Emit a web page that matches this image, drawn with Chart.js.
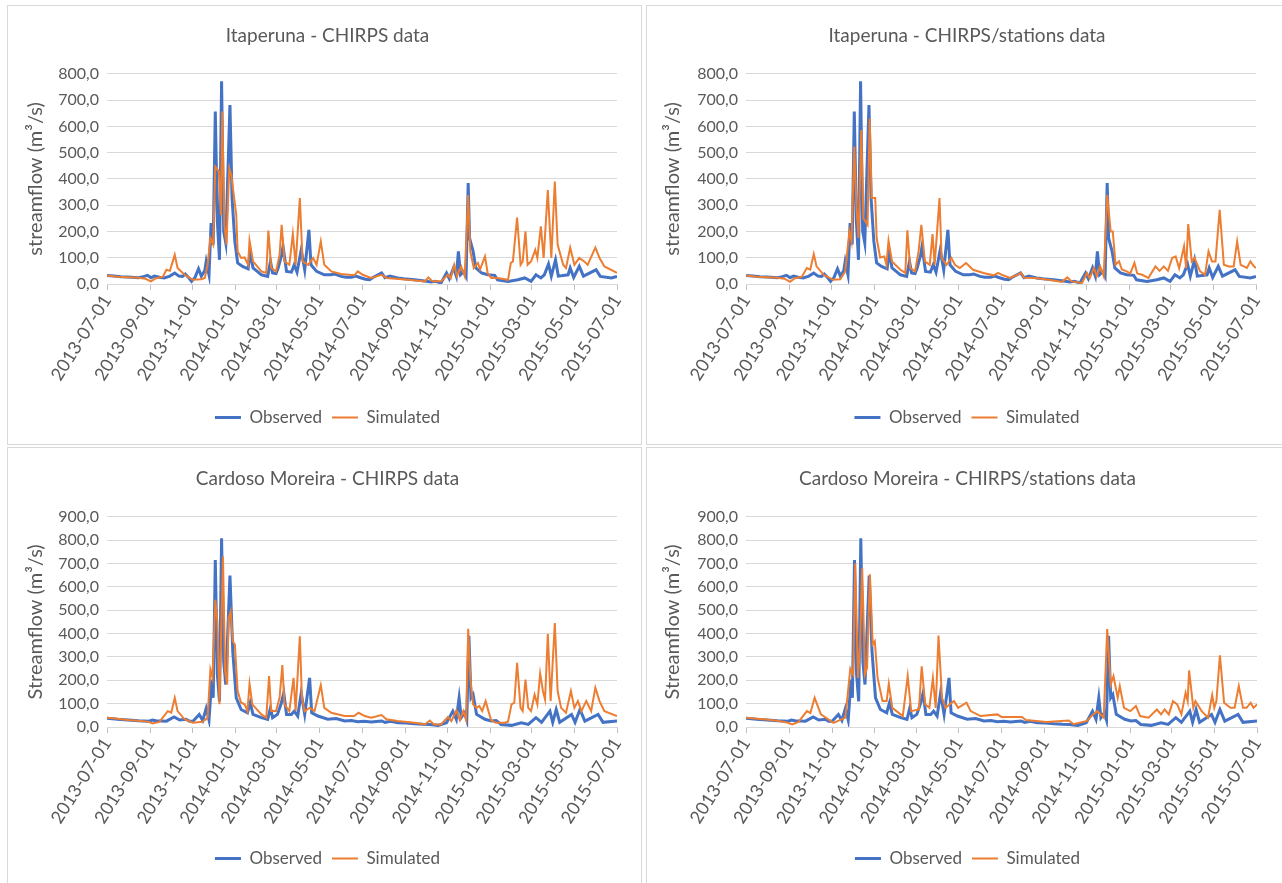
<!DOCTYPE html>
<html>
<head>
<meta charset="utf-8">
<script src="https://cdn.jsdelivr.net/npm/chart.js@4.4.0/dist/chart.umd.min.js"></script>
<style>
  body { margin: 0; background: #fff; width: 1282px; height: 883px; overflow: hidden; position: relative; }
  .panel { position: absolute; border: 1px solid #d9d9d9; box-sizing: border-box; }
  canvas { position: absolute; }
</style>
</head>
<body>
<div class="panel" style="left:7px;top:5px;width:635px;height:440px"></div>
<div class="panel" style="left:646px;top:5px;width:640px;height:440px"></div>
<div class="panel" style="left:7px;top:447px;width:635px;height:440px"></div>
<div class="panel" style="left:646px;top:447px;width:640px;height:440px"></div>
<canvas id="c1" width="632" height="440" style="left:8px;top:5px"></canvas>
<canvas id="c2" width="637" height="440" style="left:645px;top:5px"></canvas>
<canvas id="c3" width="632" height="435" style="left:8px;top:448px"></canvas>
<canvas id="c4" width="637" height="435" style="left:645px;top:448px"></canvas>
<script>
"use strict";

// days counted from startDate, values in m3/s
const startDate = '2013-07-01';
const tickLabels = ['2013-07-01', '2013-09-01', '2013-11-01', '2014-01-01', '2014-03-01', '2014-05-01',
  '2014-07-01', '2014-09-01', '2014-11-01', '2015-01-01', '2015-03-01', '2015-05-01', '2015-07-01'];

// Itaperuna observed (same in both upper charts)
const obsItaperuna = [[0,32],[10,30],[20,28],[30,27],[45,24],[52,28],[58,33],[63,24],[68,30],[75,26],[82,23],[90,30],[97,42],[103,30],[108,29],[112,38],[116,27],[121,10],[126,25],[131,58],[135,30],[140,51],[142,86],[146,35],[149,232],[152,150],[155,656],[158,238],[161,92],[164,772],[167,200],[170,156],[176,681],[179,327],[183,162],[187,80],[194,67],[202,58],[205,124],[209,61],[215,48],[221,35],[230,29],[234,86],[237,42],[242,40],[245,61],[250,111],[252,143],[257,48],[264,45],[268,73],[272,45],[278,130],[283,54],[289,206],[292,73],[300,48],[311,35],[320,35],[326,38],[335,29],[342,26],[350,26],[356,30],[364,23],[370,18],[376,16],[380,24],[393,42],[398,24],[405,30],[416,23],[425,20],[440,16],[452,12],[464,8],[470,10],[478,4],[486,42],[490,20],[496,61],[500,30],[503,124],[506,35],[511,48],[514,30],[517,384],[519,175],[524,124],[528,61],[536,42],[545,35],[555,33],[559,16],[574,10],[588,16],[598,23],[607,10],[614,35],[621,23],[626,35],[632,76],[636,30],[642,92],[646,30],[660,35],[663,61],[668,25],[676,67],[682,30],[700,54],[706,29],[722,23],[730,29]];

const simItaperunaChirps = [[0,32],[15,28],[30,26],[45,24],[55,20],[63,10],[70,22],[80,28],[85,54],[90,50],[97,111],[101,61],[111,35],[123,16],[135,18],[140,23],[144,73],[148,175],[152,150],[155,447],[160,430],[163,263],[165,656],[168,225],[171,150],[175,440],[178,415],[182,327],[185,263],[187,124],[192,99],[197,101],[202,73],[204,165],[209,86],[221,48],[228,42],[231,203],[235,61],[242,48],[247,111],[250,225],[254,86],[261,73],[266,190],[270,73],[276,327],[280,86],[288,73],[295,99],[300,73],[306,162],[311,73],[321,48],[335,38],[354,33],[359,48],[366,35],[378,23],[393,35],[400,23],[431,16],[455,10],[460,25],[466,10],[478,10],[488,35],[492,22],[497,73],[501,30],[507,67],[512,30],[517,339],[520,124],[525,61],[531,80],[534,55],[541,105],[545,40],[550,23],[559,23],[574,16],[578,80],[581,86],[587,253],[592,73],[595,86],[599,200],[602,73],[607,86],[613,130],[616,99],[621,219],[625,99],[631,358],[636,99],[641,390],[645,150],[653,73],[657,61],[663,139],[669,73],[676,99],[683,86],[688,73],[699,139],[705,99],[712,67],[730,42]];

const simItaperunaStations = [[0,32],[15,28],[30,26],[45,24],[55,20],[63,8],[70,22],[80,28],[87,61],[92,55],[97,114],[101,67],[111,35],[125,16],[135,18],[142,48],[148,200],[151,162],[155,523],[158,301],[161,175],[165,586],[168,250],[171,238],[174,225],[177,630],[180,327],[185,327],[187,175],[192,101],[198,105],[201,73],[204,165],[209,86],[221,54],[228,42],[231,204],[235,61],[242,48],[247,124],[251,225],[256,86],[263,73],[267,190],[270,73],[277,327],[280,99],[287,73],[294,99],[299,73],[306,61],[315,80],[325,54],[340,42],[354,33],[361,42],[366,35],[378,23],[394,42],[398,24],[414,23],[433,16],[452,8],[460,25],[466,10],[481,4],[488,42],[492,22],[498,61],[502,30],[507,67],[512,30],[517,339],[522,200],[525,200],[529,73],[534,86],[538,55],[545,48],[550,40],[556,80],[560,40],[567,35],[576,23],[586,67],[592,50],[598,67],[604,50],[610,99],[615,105],[620,60],[627,143],[630,60],[633,228],[638,86],[642,99],[650,48],[657,35],[662,124],[667,86],[672,86],[678,282],[684,73],[691,67],[698,67],[703,162],[708,73],[717,61],[722,86],[727,67],[730,61]];

// Cardoso Moreira observed (same in both lower charts)
const obsCardoso = [[0,37],[15,33],[30,30],[45,27],[60,25],[65,30],[70,27],[85,25],[96,43],[104,30],[113,33],[118,25],[123,25],[132,54],[137,28],[142,80],[146,30],[150,203],[152,125],[155,715],[158,225],[161,110],[164,808],[167,280],[170,182],[176,648],[180,325],[185,125],[192,75],[201,61],[205,104],[209,54],[221,40],[230,33],[234,82],[237,40],[244,54],[249,97],[253,146],[257,54],[264,54],[268,68],[273,47],[278,146],[283,54],[290,210],[293,61],[302,47],[316,33],[328,36],[340,26],[350,28],[359,23],[368,25],[378,21],[393,26],[398,20],[406,24],[416,18],[428,17],[440,14],[452,12],[462,11],[474,7],[486,18],[490,40],[495,68],[500,33],[504,125],[507,40],[512,61],[515,30],[518,390],[521,125],[524,139],[529,54],[533,47],[541,33],[550,26],[557,28],[564,11],[579,7],[593,18],[603,11],[614,40],[622,20],[634,68],[638,20],[643,75],[648,20],[665,54],[670,20],[677,75],[684,25],[703,54],[710,20],[730,26]];

const simCardosoChirps = [[0,40],[15,35],[30,30],[45,27],[60,22],[65,15],[75,22],[87,68],[92,62],[97,125],[101,68],[111,33],[123,18],[137,22],[144,40],[148,246],[151,210],[155,545],[158,452],[161,97],[166,730],[169,240],[172,182],[174,466],[177,495],[180,367],[183,353],[187,154],[192,104],[197,97],[201,68],[204,185],[208,97],[221,54],[228,40],[232,218],[235,68],[242,68],[247,125],[251,265],[254,97],[261,68],[267,210],[270,68],[276,388],[279,125],[283,68],[290,82],[297,68],[306,179],[311,82],[321,61],[340,47],[354,47],[360,61],[369,47],[378,40],[393,51],[400,33],[416,26],[440,18],[455,11],[462,28],[468,11],[478,11],[488,43],[493,25],[500,71],[505,30],[510,68],[514,30],[517,421],[520,210],[524,97],[529,82],[533,90],[537,68],[542,111],[546,68],[550,28],[557,18],[569,18],[574,23],[579,97],[583,104],[587,275],[592,82],[595,68],[599,203],[603,82],[607,68],[612,139],[616,97],[620,229],[624,154],[627,118],[631,398],[635,111],[641,445],[645,154],[650,82],[657,61],[664,154],[669,82],[674,111],[679,68],[686,111],[693,68],[699,168],[705,111],[712,68],[730,47]];

const simCardosoStations = [[0,40],[25,33],[45,27],[60,18],[66,11],[75,22],[87,68],[92,60],[98,125],[107,54],[125,18],[142,40],[149,250],[153,225],[156,700],[160,210],[163,353],[166,680],[170,225],[173,253],[177,654],[181,353],[184,367],[188,210],[195,111],[201,111],[204,185],[209,82],[224,47],[231,218],[236,68],[247,75],[251,260],[256,97],[262,82],[267,210],[271,82],[275,392],[280,125],[285,82],[297,111],[303,82],[315,104],[321,68],[335,47],[359,54],[365,43],[394,43],[400,30],[429,21],[461,28],[468,12],[487,26],[496,54],[502,68],[511,40],[516,419],[521,182],[525,218],[531,125],[534,175],[540,82],[549,68],[557,90],[563,47],[575,40],[587,75],[593,54],[598,75],[604,54],[610,111],[616,97],[622,54],[628,146],[631,111],[633,242],[639,82],[642,111],[651,68],[660,40],[666,137],[669,82],[672,111],[677,307],[683,104],[692,82],[698,82],[704,175],[710,82],[715,82],[721,104],[725,82],[730,97]];

const tickDays = tickLabels.map(l => (Date.parse(l) - Date.parse(startDate)) / 86400000);

Chart.defaults.font.family = "Lato, 'Liberation Sans', sans-serif";
Chart.defaults.color = '#595959';

const toPoints = arr => arr.map(p => ({ x: p[0], y: p[1] }));

function makeChart(id, title, yTitle, yMax, obs, sim, layout) {
  new Chart(document.getElementById(id), {
    type: 'line',
    data: {
      datasets: [
        { label: 'Observed', data: toPoints(obs), borderColor: '#4472C4', backgroundColor: '#4472C4',
          borderWidth: 3, pointRadius: 0, order: 2 },
        { label: 'Simulated', data: toPoints(sim), borderColor: '#ED7D31', backgroundColor: '#ED7D31',
          borderWidth: 2, pointRadius: 0, order: 1 }
      ]
    },
    options: {
      responsive: false,
      animation: false,
      devicePixelRatio: 1,
      layout: { padding: { top: 0, left: layout.padLeft, right: layout.padRight, bottom: layout.padBottom } },
      plugins: {
        title: { display: true, text: title, color: '#595959', font: { size: 19, weight: 'normal' },
          padding: { top: 19, bottom: 27 } },
        legend: {
          position: 'bottom',
          labels: { usePointStyle: true, pointStyle: 'line', pointStyleWidth: 26, padding: 10,
            color: '#595959', font: { size: 17 },
            sort: (a, b) => a.datasetIndex - b.datasetIndex }
        },
        tooltip: { enabled: false }
      },
      scales: {
        x: {
          type: 'linear', min: 0, max: 730,
          afterBuildTicks: s => { s.ticks = tickDays.map(v => ({ value: v })); },
          afterFit: s => { s.height = layout.xHeight; },
          grid: { drawOnChartArea: false, drawTicks: true, tickLength: 6, color: '#bfbfbf' },
          border: { color: '#d9d9d9' },
          ticks: { autoSkip: false, minRotation: 58, maxRotation: 58, padding: 1, font: { size: 18 },
            callback: v => { const i = tickDays.indexOf(v); return i >= 0 ? tickLabels[i] : ''; } }
        },
        y: {
          min: 0, max: yMax,
          afterFit: s => { s.width = layout.yWidth; },
          grid: { color: '#d9d9d9', drawTicks: false },
          border: { display: false },
          ticks: { stepSize: 100, padding: 8, font: { size: 16 },
            callback: v => v.toFixed(1).replace('.', ',') },
          title: { display: true, text: yTitle, color: '#595959', font: { size: 20 },
            padding: { top: layout.yTitlePad, bottom: 0 } }
        }
      }
    }
  });
}

makeChart('c1', 'Itaperuna - CHIRPS data', 'streamflow (m³/s)', 800, obsItaperuna, simItaperunaChirps,
  { padLeft: 30, yWidth: 69, padRight: 23, xHeight: 115, padBottom: 9, yTitlePad: -14 });
makeChart('c2', 'Itaperuna - CHIRPS/stations data', 'streamflow (m³/s)', 800, obsItaperuna, simItaperunaStations,
  { padLeft: 33, yWidth: 68, padRight: 26, xHeight: 115, padBottom: 9, yTitlePad: -17 });
makeChart('c3', 'Cardoso Moreira - CHIRPS data', 'Streamflow (m³/s)', 900, obsCardoso, simCardosoChirps,
  { padLeft: 30, yWidth: 69, padRight: 23, xHeight: 113, padBottom: 6, yTitlePad: -14 });
makeChart('c4', 'Cardoso Moreira - CHIRPS/stations data', 'Streamflow (m³/s)', 900, obsCardoso, simCardosoStations,
  { padLeft: 33, yWidth: 68, padRight: 25, xHeight: 113, padBottom: 6, yTitlePad: -17 });
</script>
</body>
</html>
